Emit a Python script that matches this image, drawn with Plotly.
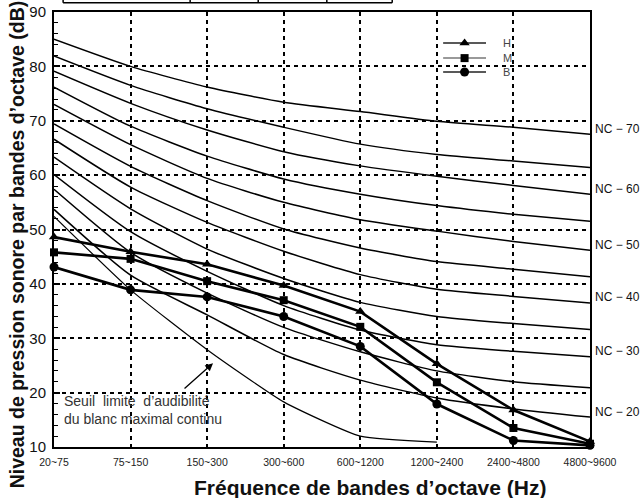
import plotly.graph_objects as go

# ---------------- data ----------------
bands = ["20~75", "75~150", "150~300", "300~600", "600~1200", "1200~2400", "2400~4800", "4800~9600"]

nc_names = ["NC-70", "NC-65", "NC-60", "NC-55", "NC-50", "NC-45", "NC-40", "NC-35", "NC-30", "NC-25", "NC-20"]
nc70 = [85.0, 80.0, 76.2, 73.4, 71.7, 69.9, 68.8, 67.5]
nc65 = [81.9, 76.5, 72.2, 68.8, 65.7, 63.8, 62.6, 61.4]
nc60 = [79.1, 73.2, 68.3, 64.3, 61.7, 59.8, 58.1, 56.5]
nc55 = [76.2, 69.0, 63.5, 59.3, 56.5, 54.4, 52.8, 51.5]
nc50 = [73.0, 65.6, 59.4, 55.0, 51.8, 49.7, 47.8, 46.2]
nc45 = [69.4, 61.6, 55.3, 50.1, 46.6, 44.1, 42.7, 41.3]
nc40 = [66.6, 57.8, 51.3, 46.0, 41.7, 39.0, 37.7, 36.5]
nc35 = [63.3, 53.8, 46.4, 41.0, 36.6, 34.0, 32.7, 31.6]
nc30 = [60.1, 49.6, 42.3, 36.0, 31.5, 28.8, 27.6, 26.6]
nc25 = [57.4, 45.8, 38.3, 32.0, 27.5, 24.0, 22.0, 20.9]
nc20 = [53.7, 41.6, 34.3, 27.0, 22.3, 19.0, 17.0, 15.5]
nc_curves = [nc70, nc65, nc60, nc55, nc50, nc45, nc40, nc35, nc30, nc25, nc20]
nc_labels = ["NC − 70", None, "NC − 60", None, "NC − 50", None, "NC − 40", None, "NC − 30", None, "NC − 20"]

threshold = [52.4, 38.9, 27.9, 18.3, 12.0, 10.9]

series_names = ["H", "M", "B"]
series_H = [48.6, 45.9, 43.6, 39.7, 34.9, 25.3, 16.8, 11.0]
series_M = [45.8, 44.6, 40.5, 37.0, 32.1, 21.9, 13.5, 10.6]
series_B = [43.1, 38.9, 37.6, 34.0, 28.5, 17.9, 11.2, 10.3]

y_ticks = [10, 20, 30, 40, 50, 60, 70, 80, 90]

# ---------------- figure ----------------
FONT = "Liberation Sans, Arial, sans-serif"
xs = list(range(len(bands)))
symbols = ["triangle-up", "square", "circle"]
sizes = [9, 8, 9]

fig = go.Figure()

for vals in nc_curves:
    fig.add_trace(go.Scatter(x=xs, y=vals, mode="lines", line=dict(color="black", width=1.5, shape="spline", smoothing=0.6),
                             showlegend=False, hoverinfo="skip"))

fig.add_trace(go.Scatter(x=xs[:len(threshold)], y=threshold, mode="lines",
                         line=dict(color="black", width=1.2, shape="spline", smoothing=0.5),
                         showlegend=False, hoverinfo="skip"))

for name, vals, sym, sz in zip(series_names, [series_H, series_M, series_B], symbols, sizes):
    fig.add_trace(go.Scatter(x=xs, y=vals, mode="lines+markers", name=name, showlegend=False,
                             line=dict(color="black", width=2.6),
                             marker=dict(symbol=sym, size=sz, color="black"),
                             cliponaxis=False))

# legend key drawn on an overlay axis (layout positions, in plot-area fractions)
key_x0, key_x1, key_text_x = 0.726, 0.806, 0.834
key_rows = [0.929, 0.894, 0.862]
key_line_colors = ["#222", "#777", "#222"]
for name, sym, sz, ky, lc in zip(series_names, symbols, sizes, key_rows, key_line_colors):
    fig.add_trace(go.Scatter(x=[key_x0, key_x1], y=[ky, ky], mode="lines", line=dict(color=lc, width=1.5),
                             xaxis="x2", yaxis="y2", showlegend=False, hoverinfo="skip"))
    fig.add_trace(go.Scatter(x=[(key_x0 + key_x1) / 2], y=[ky], mode="markers",
                             marker=dict(symbol=sym, size=sz, color="black"),
                             xaxis="x2", yaxis="y2", showlegend=False, hoverinfo="skip"))
    fig.add_annotation(x=key_text_x, y=ky, xref="x2", yref="y2", text=name, showarrow=False,
                       xanchor="left", yanchor="middle", font=dict(family=FONT, size=11, color="#444"))

for vals, lab in zip(nc_curves, nc_labels):
    if lab:
        fig.add_annotation(x=xs[-1], y=vals[-1] + 1.0, text=lab, showarrow=False, xanchor="left", xshift=3,
                           font=dict(family=FONT, size=12, color="#111"))

# threshold note + arrow
fig.add_annotation(x=2.077, y=25.4, ax=1.685, ay=20.5, axref="x", ayref="y", xref="x", yref="y",
                   text="", showarrow=True, arrowhead=2, arrowsize=1.2, arrowwidth=1.3, arrowcolor="black")
fig.add_annotation(x=0.1, y=16.8, text="Seuil  limite  d’audibilité<br>du blanc maximal continu",
                   showarrow=False, xanchor="left", yanchor="middle", align="left",
                   font=dict(family=FONT, size=14, color="#333"))

# axis titles
fig.add_annotation(xref="paper", yref="paper", x=-0.07, y=0.467, text="<b>Niveau de pression sonore par bandes d’octave (dB)</b>",
                   textangle=-90, showarrow=False, xanchor="center", yanchor="middle",
                   font=dict(family=FONT, size=19.5, color="#111"))
fig.add_annotation(xref="paper", yref="paper", x=0.59, y=-0.094, text="<b>Fréquence de bandes d’octave (Hz)</b>",
                   showarrow=False, xanchor="center", yanchor="middle",
                   font=dict(family=FONT, size=21, color="#111"))

# partial table frame at the top edge
fig.add_shape(type="line", xref="paper", yref="paper", x0=0.017, x1=0.631, y0=1.021, y1=1.021, line=dict(color="black", width=1.5))
for xv in [0.017, 0.254, 0.381, 0.509, 0.631]:
    fig.add_shape(type="line", xref="paper", yref="paper", x0=xv, x1=xv, y0=1.021, y1=1.04, line=dict(color="black", width=1.5))

fig.update_xaxes(range=[0, 7], tickvals=xs, ticktext=bands, showline=True, linecolor="black", linewidth=2, mirror=True,
                 showgrid=True, gridcolor="black", gridwidth=1.7, griddash="4px,4px", zeroline=False, automargin=False,
                 ticks="", tickfont=dict(family=FONT, size=10.5, color="#222"), ticklabelstandoff=4)
fig.update_yaxes(range=[10, 90], tickvals=y_ticks, showline=True, linecolor="black", linewidth=2, mirror=True,
                 showgrid=True, gridcolor="black", gridwidth=1.7, griddash="4px,4px", zeroline=False, automargin=False,
                 ticks="inside", ticklen=6, tickwidth=1.5, tickcolor="black",
                 minor=dict(ticks="inside", dtick=2, ticklen=4, tickcolor="black", tickwidth=1, showgrid=False),
                 tickfont=dict(family=FONT, size=15, color="#111"), ticklabelstandoff=3)

fig.update_layout(width=643, height=498, margin=dict(l=54, r=53, t=12, b=51),
                  paper_bgcolor="white", plot_bgcolor="white", showlegend=False,
                  xaxis2=dict(overlaying="x", range=[0, 1], visible=False, fixedrange=True, automargin=False),
                  yaxis2=dict(overlaying="y", range=[0, 1], visible=False, fixedrange=True, automargin=False))

fig.write_html("out.html")
